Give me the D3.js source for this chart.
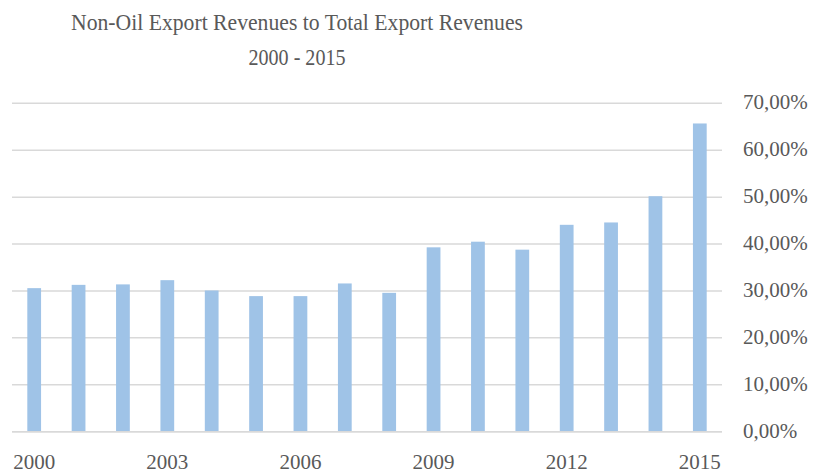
<!DOCTYPE html>
<html>
<head>
<meta charset="utf-8">
<script src="https://cdn.jsdelivr.net/npm/d3@7"></script>
<style>
  body { margin: 0; background: #fff; }
  text { font-family: "Liberation Serif", serif; fill: #595959; }
</style>
</head>
<body>
<div id="chart"></div>
<script>
// data
const years = [2000, 2001, 2002, 2003, 2004, 2005, 2006, 2007,
               2008, 2009, 2010, 2011, 2012, 2013, 2014, 2015];
const shares = [30.6, 31.3, 31.4, 32.3, 30.1, 28.9, 28.9, 31.6,
                29.6, 39.3, 40.5, 38.8, 44.1, 44.6, 50.2, 65.7];
const yTicks = [0, 10, 20, 30, 40, 50, 60, 70];
const xLabels = [2000, 2003, 2006, 2009, 2012, 2015];
const titleLines = ["Non-Oil Export Revenues to Total Export Revenues", "2000 - 2015"];

main();

function main() {
    let W = 814, H = 476;
    let left = 12, right = 722, top = 103.3, bottom = 431.7;

    let svg = d3.select("#chart").append("svg")
        .attr("width", W)
        .attr("height", H);

    let x = d3.scaleBand()
        .domain(years)
        .range([left, right])
        .paddingInner(0.69)
        .paddingOuter(0.345);

    let y = d3.scaleLinear()
        .domain([0, 70])
        .range([bottom, top]);

    // title (the original font is narrower, so squeeze it to the same width)
    let titleWidths = [452, 97];
    svg.append("g").selectAll("text")
        .data(titleLines)
        .enter()
        .append("text")
        .attr("x", 297)
        .attr("y", (d, i) => 30 + i * 35)
        .attr("text-anchor", "middle")
        .attr("font-size", 23)
        .attr("textLength", (d, i) => titleWidths[i])
        .attr("lengthAdjust", "spacingAndGlyphs")
        .text(d => d);

    // grid
    svg.append("g").selectAll("line")
        .data(yTicks)
        .enter()
        .append("line")
        .attr("x1", left)
        .attr("x2", right)
        .attr("y1", d => y(d))
        .attr("y2", d => y(d))
        .attr("stroke", "#d9d9d9")
        .attr("stroke-width", 1.5);

    // bars
    svg.append("g").selectAll("rect")
        .data(years)
        .enter()
        .append("rect")
        .attr("x", d => x(d))
        .attr("y", (d, i) => y(shares[i]))
        .attr("width", x.bandwidth())
        .attr("height", (d, i) => y(0) - y(shares[i]))
        .attr("fill", "#9fc3e7");

    // redraw baseline on top
    svg.append("line")
        .attr("x1", left).attr("x2", right)
        .attr("y1", y(0)).attr("y2", y(0))
        .attr("stroke", "#d9d9d9")
        .attr("stroke-width", 1.5);

    // right axis labels
    svg.append("g").selectAll("text")
        .data(yTicks)
        .enter()
        .append("text")
        .attr("x", 743)
        .attr("y", d => y(d) + 6)
        .attr("font-size", 21)
        .text(d => d3.format(".2f")(d).replace(".", ",") + "%");

    // x labels
    svg.append("g").selectAll("text")
        .data(xLabels)
        .enter()
        .append("text")
        .attr("x", d => x(d) + x.bandwidth() / 2)
        .attr("y", 469)
        .attr("text-anchor", "middle")
        .attr("font-size", 21)
        .text(d => d);
}
</script>
</body>
</html>
